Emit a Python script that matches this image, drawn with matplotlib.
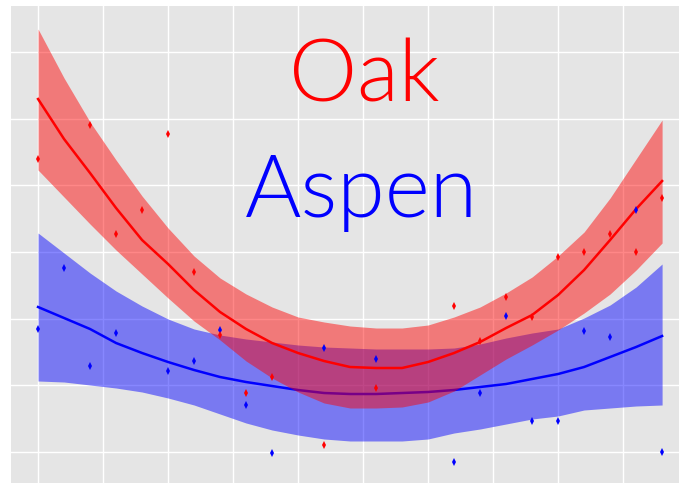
import numpy as np
import matplotlib.pyplot as plt

# point positions (index along x) and values
oak_x = [0, 2, 3, 4, 5, 6, 7, 8, 9, 11, 13, 16, 17, 18, 19, 20, 21, 22, 23, 24]
oak_y = [4.39, 4.90, 3.27, 3.63, 4.77, 2.70, 1.75, 0.885, 1.125, 0.105,
         0.96, 2.19, 1.665, 2.325, 2.025, 2.925, 3.0, 3.27, 3.0, 3.81]
aspen_x = [0, 1, 2, 3, 5, 6, 7, 8, 9, 11, 13, 16, 17, 18, 19, 20, 21, 22, 23, 24]
aspen_y = [1.845, 2.76, 1.29, 1.785, 1.215, 1.365, 1.83, 0.705, -0.015, 1.56,
           1.395, -0.15, 0.885, 2.04, 0.465, 0.465, 1.815, 1.725, 3.63, 0.0]

# smoothed fits (pixel rows, converted below)
fit_x = np.arange(25)
oak_fit_px = [99, 139, 173, 208, 240, 264, 290, 312, 329, 343, 353, 361, 367,
              368, 368, 362, 353, 342, 328, 315, 295, 270, 240, 209, 181]
oak_hi_px = [29, 78, 122, 160, 196, 228, 256, 278, 294, 307, 317, 322, 326,
             328, 328, 325, 317, 307, 293, 277, 256, 232, 198, 159, 120]
oak_lo_px = [170, 197, 224, 250, 274, 298, 321, 340, 361, 378, 392, 403, 408,
             408, 407, 402, 391, 375, 359, 345, 330, 313, 294, 270, 243]
aspen_fit_px = [307, 318, 329, 343, 353, 362, 370, 377, 382, 386, 390, 393, 394,
                394, 393, 392, 390, 387, 384, 379, 374, 367, 357, 347, 336]
aspen_hi_px = [233, 253, 273, 291, 306, 319, 329, 335, 339, 342, 345, 347, 348,
               349, 349, 349, 348, 344, 338, 333, 329, 318, 305, 287, 264]
aspen_lo_px = [381, 382, 385, 388, 392, 398, 405, 414, 423, 430, 435, 439, 441,
               441, 441, 439, 433, 429, 424, 419, 416, 410, 408, 406, 405]


def to_val(px):
    return (452 - np.array(px)) / 66.67


fig = plt.figure(figsize=(6.79, 4.83), dpi=100)
ax = fig.add_axes([11 / 679, 0, 1 - 11 / 679, 477 / 483])
ax.set_facecolor('#e5e5e5')

ax.fill_between(fit_x, to_val(aspen_lo_px), to_val(aspen_hi_px),
                color='#0000ff', alpha=0.47, lw=0, zorder=1)
ax.plot(fit_x, to_val(aspen_fit_px), color='#0000ff', lw=1.8, zorder=2)
ax.fill_between(fit_x, to_val(oak_lo_px), to_val(oak_hi_px),
                color='#ff0000', alpha=0.47, lw=0, zorder=3)
ax.plot(fit_x, to_val(oak_fit_px), color='#ff0000', lw=1.8, zorder=4)

ax.plot(aspen_x, aspen_y, 'd', color='#0000ff', ms=4, mew=0, zorder=5)
ax.plot(oak_x, oak_y, 'd', color='#ff0000', ms=4, mew=0, zorder=5)

ax.set_xlim(-1.04, 24.65)
ax.set_ylim(-0.465, 6.69)
ax.set_xticks(np.arange(0, 25, 2.5))
ax.set_yticks(np.arange(0, 7, 1))
ax.grid(True, color='white', lw=1.0)
ax.set_axisbelow(True)
ax.tick_params(length=0, labelbottom=False, labelleft=False)
for s in ax.spines.values():
    s.set_visible(False)

fig.text(364 / 679, (483 - 101) / 483, 'Oak', color='#ff0000', fontsize=62,
         family='Lato', weight=300, ha='center', va='baseline')
fig.text(361 / 679, (483 - 217) / 483, 'Aspen', color='#0000ff', fontsize=62,
         family='Lato', weight=300, ha='center', va='baseline')

fig.savefig('out.png', dpi=100)
